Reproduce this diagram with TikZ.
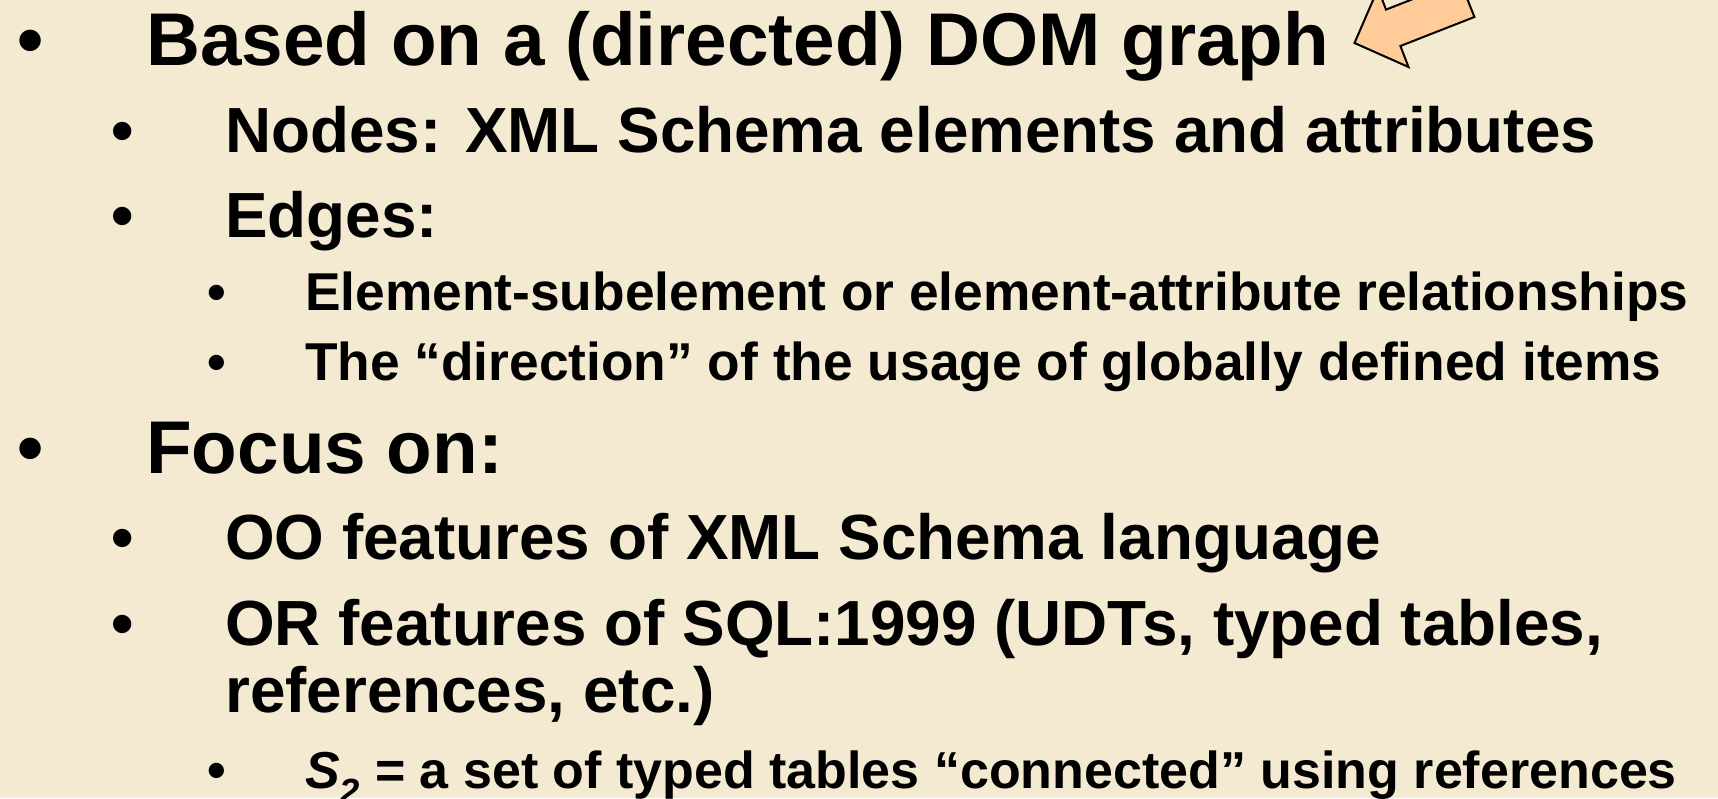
\documentclass[tikz,border=0pt]{standalone}
\usepackage{fontspec}
\setmainfont{Liberation Sans}
\usepackage{tikz}
\usetikzlibrary{positioning}
\definecolor{parchment}{RGB}{244,234,210}
\definecolor{peach}{RGB}{255,204,153}

\begin{document}
\begin{tikzpicture}[
x=1pt,y=-1pt,
lvlone/.style={anchor=base west,inner sep=0pt,font=\bfseries\fontsize{74.7}{80}\selectfont},
lvltwo/.style={anchor=base west,inner sep=0pt,font=\bfseries\fontsize{63.8}{70}\selectfont},
lvlthree/.style={anchor=base west,inner sep=0pt,font=\bfseries\fontsize{53.3}{60}\selectfont},
dotone/.style={lvlone,anchor=base},
dottwo/.style={lvltwo,anchor=base},
dotthree/.style={lvlthree,anchor=base},
blockarrow/.style={draw=black,line width=2pt,fill=peach,line join=miter}]
    % Background
    \fill[parchment] (0,0) rectangle (1718,798);
    \useasboundingbox (0,0) rectangle (1718,798);
    \clip (0,0) rectangle (1718,798);

    % Arrow pointing at the first line
    \filldraw[blockarrow] (1354.5,43) -- (1408.5,67) -- (1400.4,46) -- (1474.4,17)
        -- (1460,-19.4) -- (1386,9.6) -- (1378,-11.3) -- cycle;

    % First item
    \node[dotone] (b1) at (31,65) {•};
    \node[lvlone] (based) at (146,65) {Based on a (directed) DOM graph};
    \node[dottwo] (b2) at (123,152) {•};
    \node[lvltwo] (nodes) at (225,152) {Nodes: XML Schema elements and attributes};
    \node[dottwo] (b3) at (123,237) {•};
    \node[lvltwo] (edges) at (225,237) {Edges:};
    \node[dotthree] (b4) at (217,310) {•};
    \node[lvlthree] (elem) at (305,310) {Element-subelement or element-attribute relationships};
    \node[dotthree] (b5) at (217,380) {•};
    \node[lvlthree] (dir) at (305,380) {The “direction” of the usage of globally defined items};

    % Second item
    \node[dotone] (b6) at (31,473) {•};
    \node[lvlone] (focus) at (146,473) {Focus on:};
    \node[dottwo] (b7) at (123,559) {•};
    \node[lvltwo] (oo) at (225,559) {OO features of XML Schema language};
    \node[dottwo] (b8) at (123,645) {•};
    \node[lvltwo] (or) at (225,645) {OR features of SQL:1999 (UDTs, typed tables,};
    \node[lvltwo] (refs) at (225,712) {references, etc.)};
    \node[dotthree] (b9) at (217,788) {•};
    \node[lvlthree,font=\bfseries\fontsize{52}{60}\selectfont] (stwo) at (305,788)
        {\textit{S\textsubscript{2}} = a set of typed tables “connected” using references};
\end{tikzpicture}
\end{document}
